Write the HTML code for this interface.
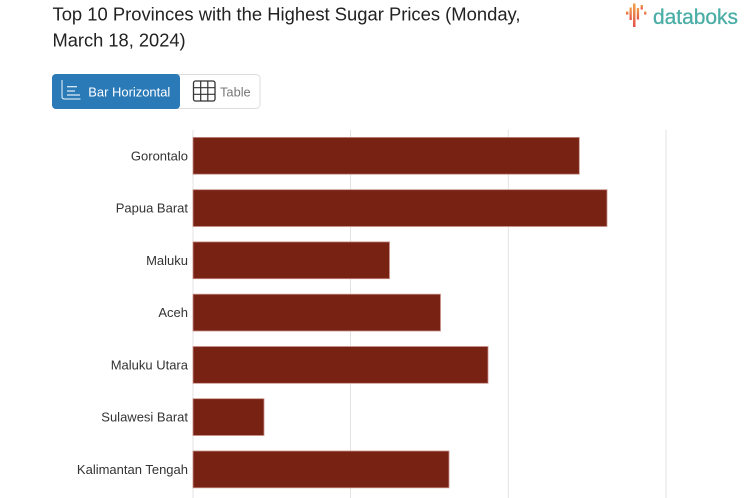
<!DOCTYPE html>
<html>
<head>
<meta charset="utf-8">
<style>
  html, body { margin: 0; padding: 0; background: #ffffff; }
  body { width: 753px; height: 498px; overflow: hidden; position: relative; }
  svg { position: absolute; left: 0; top: 0; display: block; }
  text { font-family: "Liberation Sans", Arial, sans-serif; }
</style>
</head>
<body>
<svg width="753" height="498" viewBox="0 0 753 498" xmlns="http://www.w3.org/2000/svg">
  <defs>
    <linearGradient id="lg" x1="0" y1="0" x2="0" y2="1">
      <stop offset="0" stop-color="#f2a14a"/>
      <stop offset="1" stop-color="#e4524a"/>
    </linearGradient>
  </defs>

  <!-- Title -->
  <text x="52.5" y="20.7" font-size="18.3" fill="#222222" textLength="468" lengthAdjust="spacingAndGlyphs">Top 10 Provinces with the Highest Sugar Prices (Monday,</text>
  <text x="52.5" y="46.7" font-size="18.3" fill="#222222">March 18, 2024)</text>

  <!-- Logo -->
  <rect x="626" y="11.5" width="2.4" height="3" fill="url(#lg)"/>
  <rect x="629.5" y="7.5" width="2.3" height="12.5" fill="url(#lg)"/>
  <rect x="633" y="3.5" width="2.5" height="23.5" fill="url(#lg)"/>
  <rect x="636.8" y="8" width="2.3" height="11.5" fill="url(#lg)"/>
  <rect x="640.6" y="5" width="2.3" height="4.5" fill="url(#lg)"/>
  <rect x="644.1" y="11.5" width="2.3" height="3" fill="url(#lg)"/>
  <text x="653" y="24" font-size="21.5" fill="#4aaea6" stroke="#4aaea6" stroke-width="0.3" textLength="85" lengthAdjust="spacingAndGlyphs">databoks</text>

  <!-- Button group -->
  <rect x="52.5" y="74.5" width="207.5" height="34" rx="4" ry="4" fill="#ffffff" stroke="#dddddd" stroke-width="1"/>
  <rect x="52" y="74" width="128" height="35" rx="4" ry="4" fill="#2a7ab8"/>
  <!-- bar horizontal icon -->
  <path d="M62 80 V96.5 Q62 99 64.5 99 H80.5" fill="none" stroke="#cfe2f1" stroke-width="1.2"/>
  <line x1="67" y1="86.7" x2="77" y2="86.7" stroke="#e6f0f8" stroke-width="1.2"/>
  <line x1="67" y1="91" x2="75" y2="91" stroke="#e6f0f8" stroke-width="1.2"/>
  <line x1="67" y1="95" x2="80" y2="95" stroke="#e6f0f8" stroke-width="1.2"/>
  <text x="88.3" y="96.3" font-size="13" fill="#ffffff" textLength="82" lengthAdjust="spacingAndGlyphs">Bar Horizontal</text>
  <!-- table icon -->
  <rect x="193.5" y="81" width="21.5" height="20" rx="2" ry="2" fill="none" stroke="#333333" stroke-width="1.3"/>
  <line x1="200.7" y1="81" x2="200.7" y2="101" stroke="#333333" stroke-width="1.2"/>
  <line x1="207.8" y1="81" x2="207.8" y2="101" stroke="#333333" stroke-width="1.2"/>
  <line x1="193.5" y1="87.7" x2="215" y2="87.7" stroke="#333333" stroke-width="1.2"/>
  <line x1="193.5" y1="94.3" x2="215" y2="94.3" stroke="#333333" stroke-width="1.2"/>
  <text x="220" y="96.3" font-size="13" fill="#777777" textLength="30.7" lengthAdjust="spacingAndGlyphs">Table</text>

  <!-- Gridlines -->
  <line x1="193" y1="130" x2="193" y2="498" stroke="#e3e3e3" stroke-width="1"/>
  <line x1="350.5" y1="130" x2="350.5" y2="498" stroke="#e3e3e3" stroke-width="1"/>
  <line x1="508.3" y1="130" x2="508.3" y2="498" stroke="#e3e3e3" stroke-width="1"/>
  <line x1="666" y1="130" x2="666" y2="498" stroke="#e3e3e3" stroke-width="1"/>

  <!-- Bars -->
  <g fill="#782214" stroke="#c89088" stroke-width="0.8">
    <rect x="193" y="137.4" width="386.3" height="36.8"/>
    <rect x="193" y="189.7" width="414" height="36.8"/>
    <rect x="193" y="241.9" width="196.5" height="36.8"/>
    <rect x="193" y="294.2" width="247.5" height="36.8"/>
    <rect x="193" y="346.5" width="295" height="36.8"/>
    <rect x="193" y="398.7" width="71" height="36.8"/>
    <rect x="193" y="451" width="256" height="36.8"/>
  </g>

  <!-- Labels -->
  <g font-size="13" fill="#333333" text-anchor="end">
    <text x="188" y="160.3">Gorontalo</text>
    <text x="188" y="212.6">Papua Barat</text>
    <text x="188" y="264.8">Maluku</text>
    <text x="188" y="317.1">Aceh</text>
    <text x="188" y="369.4">Maluku Utara</text>
    <text x="188" y="421.6">Sulawesi Barat</text>
    <text x="188" y="473.9">Kalimantan Tengah</text>
  </g>
</svg>
</body>
</html>
